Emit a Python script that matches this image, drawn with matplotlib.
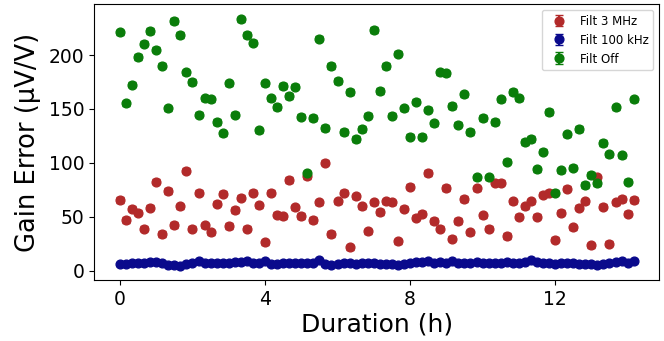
import numpy as np
import matplotlib
matplotlib.use('Agg')
import matplotlib.pyplot as plt

# sample times (minutes from start), one reading per filter setting every 10 min
minutes = [0, 10, 20, 30, 40, 50, 60, 70, 80, 90,
           100, 110, 120, 130, 140, 150, 160, 170, 180, 190,
           200, 210, 220, 230, 240, 250, 260, 270, 280, 290,
           300, 310, 320, 330, 340, 350, 360, 370, 380, 390,
           400, 410, 420, 430, 440, 450, 460, 470, 480, 490,
           500, 510, 520, 530, 540, 550, 560, 570, 580, 590,
           600, 610, 620, 630, 640, 650, 660, 670, 680, 690,
           700, 710, 720, 730, 740, 750, 760, 770, 780, 790,
           800, 810, 820, 830, 840, 850]

# gain error (uV/V)
filt_3mhz = [65.6, 47.1, 57.4, 53.8, 38.9, 58.4, 82.5, 34.1, 73.8, 42.3,
             59.8, 92.9, 38.9, 72.5, 42.0, 35.6, 62.3, 71.4, 41.4, 56.2,
             67.7, 38.9, 72.5, 60.7, 26.2, 72.5, 52.0, 50.5, 84.1, 58.6,
             50.7, 88.0, 47.1, 63.5, 100.2, 34.1, 64.4, 72.5, 21.6, 68.9,
             59.8, 36.5, 63.5, 54.4, 64.4, 63.5, 27.1, 57.4, 78.0, 49.3,
             52.9, 90.7, 45.9, 38.9, 76.8, 29.8, 45.9, 66.5, 35.6, 76.5,
             51.4, 38.9, 81.6, 81.6, 32.0, 64.4, 50.2, 59.8, 64.4, 50.2,
             70.5, 72.5, 28.9, 53.8, 76.2, 40.2, 58.4, 64.4, 23.5, 86.5,
             59.5, 25.0, 63.5, 66.5, 52.9, 65.6]

filt_100khz = [6.0, 6.5, 7.0, 7.2, 7.5, 7.8, 7.8, 7.0, 5.5, 4.8,
               4.5, 6.5, 7.5, 9.0, 7.5, 7.0, 7.2, 7.0, 7.5, 7.8,
               8.0, 8.5, 7.5, 7.0, 8.5, 6.0, 6.5, 7.0, 7.5, 7.5,
               7.0, 6.8, 7.0, 9.5, 6.0, 5.5, 6.5, 7.0, 7.0, 6.5,
               6.8, 7.0, 7.0, 6.5, 6.0, 6.5, 5.5, 6.0, 7.5, 8.0,
               8.0, 8.5, 7.5, 8.0, 7.0, 8.5, 7.5, 7.0, 7.5, 8.0,
               7.5, 7.0, 7.0, 7.5, 8.0, 7.5, 7.0, 8.0, 9.5, 8.0,
               7.0, 7.0, 6.5, 7.0, 7.5, 7.0, 6.5, 6.5, 6.0, 5.5,
               6.5, 7.0, 8.0, 8.5, 7.5, 9.0]

filt_off = [221.1, 155.3, 172.5, 198.4, 210.7, 222.3, 205.0, 190.2, 150.7, 231.6,
            218.6, 184.1, 175.0, 144.7, 159.8, 158.9, 138.0, 127.5, 173.8, 144.7,
            233.2, 218.6, 211.6, 130.2, 173.8, 159.8, 152.0, 171.4, 162.0, 170.7,
            142.9, 90.2, 141.6, 215.3, 132.3, 189.8, 175.9, 128.6, 165.6, 122.0,
            131.4, 143.8, 223.2, 166.8, 189.8, 143.8, 201.4, 150.7, 124.4, 156.8,
            124.4, 149.5, 136.8, 184.1, 183.2, 152.9, 135.6, 163.5, 128.6, 86.5,
            141.6, 86.5, 138.0, 158.9, 101.1, 165.9, 159.8, 119.5, 122.3, 94.1,
            110.5, 147.1, 72.5, 93.2, 126.5, 95.6, 131.4, 79.3, 88.9, 81.1,
            118.4, 108.0, 151.6, 107.1, 82.5, 158.9]

err_3mhz = 2.5
err_100khz = 1.5
err_off = 2.5

hours = np.array(minutes) / 60.0

fig = plt.figure(figsize=(6.64, 3.41), dpi=100)
ax = fig.add_subplot(111)
fig.subplots_adjust(left=0.142, right=0.993, top=0.988, bottom=0.179)

ax.errorbar(hours, filt_3mhz, yerr=err_3mhz, fmt='o', color='#b22a2a',
            ms=6.3, capsize=3, label='Filt 3 MHz')
ax.errorbar(hours, filt_100khz, yerr=err_100khz, fmt='o', color='#0a0a8c',
            ms=6.3, capsize=3, label='Filt 100 kHz')
ax.errorbar(hours, filt_off, yerr=err_off, fmt='o', color='#0a7d0a',
            ms=6.3, capsize=3, label='Filt Off')

ax.set_xticks([0, 4, 8, 12])
ax.set_yticks([0, 50, 100, 150, 200])
ax.tick_params(labelsize=13.5)
ax.set_xlabel('Duration (h)', fontsize=18, labelpad=3)
ax.set_ylabel('Gain Error (µV/V)', fontsize=18.5, labelpad=6)
ax.legend(loc='upper right', fontsize=8.5)

fig.savefig('out.png', dpi=100)
